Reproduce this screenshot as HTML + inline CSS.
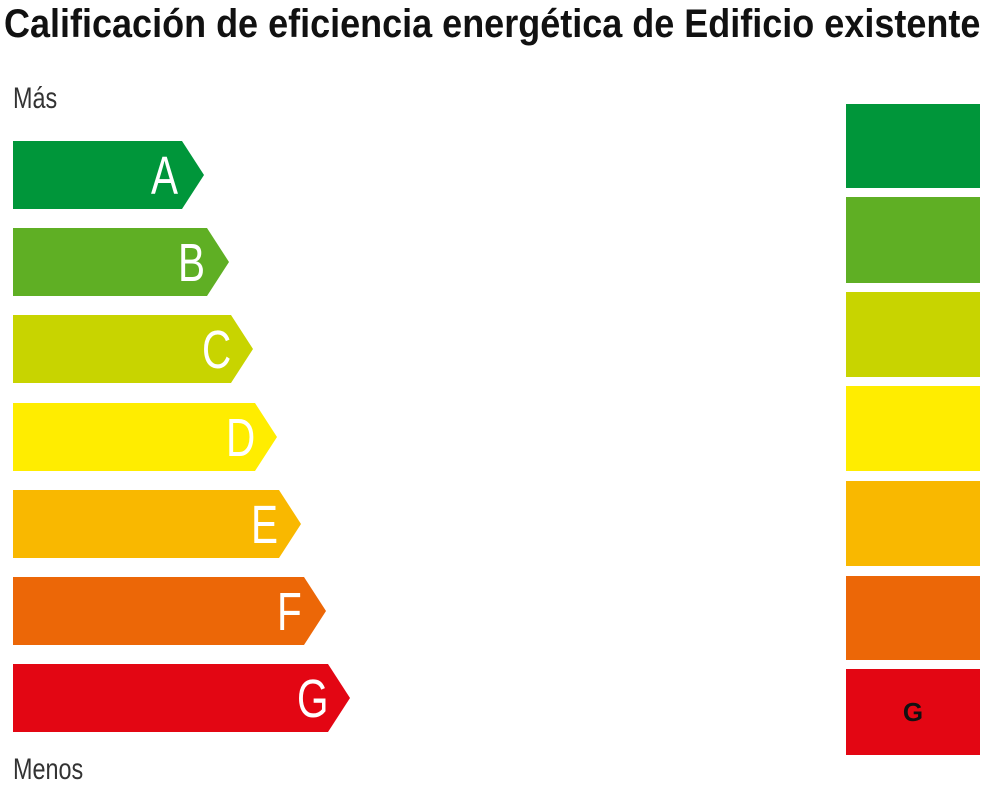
<!DOCTYPE html>
<html><head><meta charset="utf-8"><style>
body{margin:0;width:1000px;height:800px;background:#fff;position:relative;overflow:hidden;font-family:"Liberation Sans",sans-serif}
.t{position:absolute;left:4px;top:2px;font-size:40px;font-weight:bold;color:#111;white-space:nowrap;transform-origin:0 0;transform:scaleX(0.9)}
.lab{position:absolute;left:13px;font-size:30px;color:#333;transform-origin:0 0;transform:scaleX(0.78)}
.l{position:absolute;color:#fff;font-size:54px;line-height:68px;transform-origin:0 0;transform:scaleX(0.75)}
.b{position:absolute;left:846px;width:134px}
</style></head><body>
<div class="t">Calificación de eficiencia energética de Edificio existente</div>
<div class="lab" style="top:82px">Más</div>
<div class="lab" style="top:753px">Menos</div>
<svg width="400" height="800" style="position:absolute;left:0;top:0">
<polygon points="13,141 182,141 204,175 182,209 13,209" fill="#00963a"/>
<polygon points="13,228 207,228 229,262 207,296 13,296" fill="#5faf24"/>
<polygon points="13,315 231,315 253,349 231,383 13,383" fill="#c8d400"/>
<polygon points="13,403 255,403 277,437 255,471 13,471" fill="#ffed00"/>
<polygon points="13,490 279,490 301,524 279,558 13,558" fill="#f9b800"/>
<polygon points="13,577 304,577 326,611 304,645 13,645" fill="#ec6707"/>
<polygon points="13,664 328,664 350,698 328,732 13,732" fill="#e30613"/>
</svg>
<div class="l" style="left:151px;top:142px">A</div>
<div class="l" style="left:178px;top:229px">B</div>
<div class="l" style="left:202px;top:316px">C</div>
<div class="l" style="left:226px;top:404px">D</div>
<div class="l" style="left:251px;top:491px">E</div>
<div class="l" style="left:277px;top:578px">F</div>
<div class="l" style="left:297px;top:665px">G</div>
<div class="b" style="top:104px;height:84px;background:#00963a"></div>
<div class="b" style="top:197px;height:86px;background:#5faf24"></div>
<div class="b" style="top:292px;height:85px;background:#c8d400"></div>
<div class="b" style="top:386px;height:85px;background:#ffed00"></div>
<div class="b" style="top:481px;height:85px;background:#f9b800"></div>
<div class="b" style="top:576px;height:84px;background:#ec6707"></div>
<div class="b" style="top:669px;height:86px;background:#e30613;text-align:center;line-height:86px;font-weight:bold;font-size:26px;color:#111">G</div>
</body></html>
